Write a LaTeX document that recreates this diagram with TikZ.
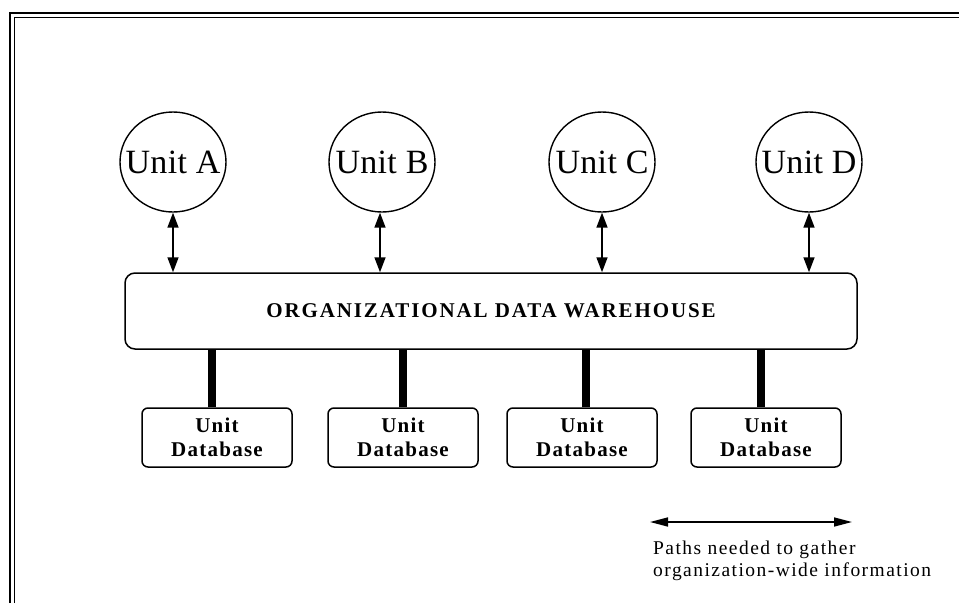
\documentclass[tikz,border=0pt]{standalone}
\usepackage{fontspec}
\setmainfont{Liberation Serif}
\newfontfamily\whfont[LetterSpace=9]{Liberation Serif}
\newfontfamily\dbfont[LetterSpace=6]{Liberation Serif}
\newfontfamily\legfont[LetterSpace=7.5]{Liberation Serif}
\newfontfamily\unitfont[LetterSpace=1]{Liberation Serif}
\usetikzlibrary{arrows.meta,shapes.geometric}
\newcommand{\ctext}[1]{\makebox[0pt]{#1}}
\begin{document}
\begin{tikzpicture}[x=1pt,y=-1pt,
  unit/.style={ellipse,draw,line width=1.4pt,minimum width=106pt,minimum height=100pt,inner sep=0pt,
    font=\unitfont\fontsize{34}{36}\selectfont},
  whbox/.style={draw,rounded corners=10pt,line width=1.5pt,minimum width=732pt,minimum height=76pt,
    font=\whfont\bfseries\fontsize{21}{24}\selectfont},
  dbbox/.style={draw,rounded corners=6pt,line width=1.5pt,minimum width=150pt,minimum height=59pt,
    align=center,inner sep=0pt,font=\dbfont\bfseries\fontsize{21}{24}\selectfont},
  updown/.style={line width=1.6pt,{Triangle[length=15pt,width=11pt]}-{Triangle[length=15pt,width=11pt]}},
  legarrow/.style={line width=1.6pt,{Triangle[length=18pt,width=9pt]}-{Triangle[length=18pt,width=9pt]}},
  bar/.style={line width=8pt},
  legtext/.style={anchor=base west,align=left,inner sep=0pt,font=\legfont\fontsize{19.5}{22}\selectfont}
]
\useasboundingbox (0,0) rectangle (959,603);
% frame
\draw[line width=2.5pt] (10,603) -- (10,13) -- (959,13);
\draw[line width=1pt] (14.5,603) -- (14.5,17) -- (959,17);
% units
\node[unit] (uA) at (173,162) {\ctext{Unit A}};
\node[unit] (uB) at (382,162) {\ctext{Unit B}};
\node[unit] (uC) at (602,162) {\ctext{Unit C}};
\node[unit] (uD) at (809,162) {\ctext{Unit D}};
% warehouse
\node[whbox] (wh) at (491,311) {ORGANIZATIONAL DATA WAREHOUSE};
% arrows
\draw[updown] (uA.south) -- (uA.south |- wh.north);
\draw[updown] ([xshift=-2pt]uB.south) -- ([xshift=-2pt]uB.south |- wh.north);
\draw[updown] (uC.south) -- (uC.south |- wh.north);
\draw[updown] (uD.south) -- (uD.south |- wh.north);
% databases
\node[dbbox] (d1) at (217,437.5) {Unit\\Database};
\node[dbbox] (d2) at (403,437.5) {Unit\\Database};
\node[dbbox] (d3) at (582,437.5) {Unit\\Database};
\node[dbbox] (d4) at (766,437.5) {Unit\\Database};
% bars
\draw[bar] ([xshift=-5pt]d1.north) -- ([xshift=-5pt]d1.north |- wh.south);
\draw[bar] (d2.north) -- (d2.north |- wh.south);
\draw[bar] ([xshift=4pt]d3.north) -- ([xshift=4pt]d3.north |- wh.south);
\draw[bar] ([xshift=-5pt]d4.north) -- ([xshift=-5pt]d4.north |- wh.south);
% legend
\coordinate (L1) at (650,522);
\coordinate (L2) at (852,522);
\draw[legarrow] (L1) -- (L2);
\node[legtext] (leg) at (653,576) {Paths needed to gather\\organization-wide information};
\end{tikzpicture}
\end{document}
